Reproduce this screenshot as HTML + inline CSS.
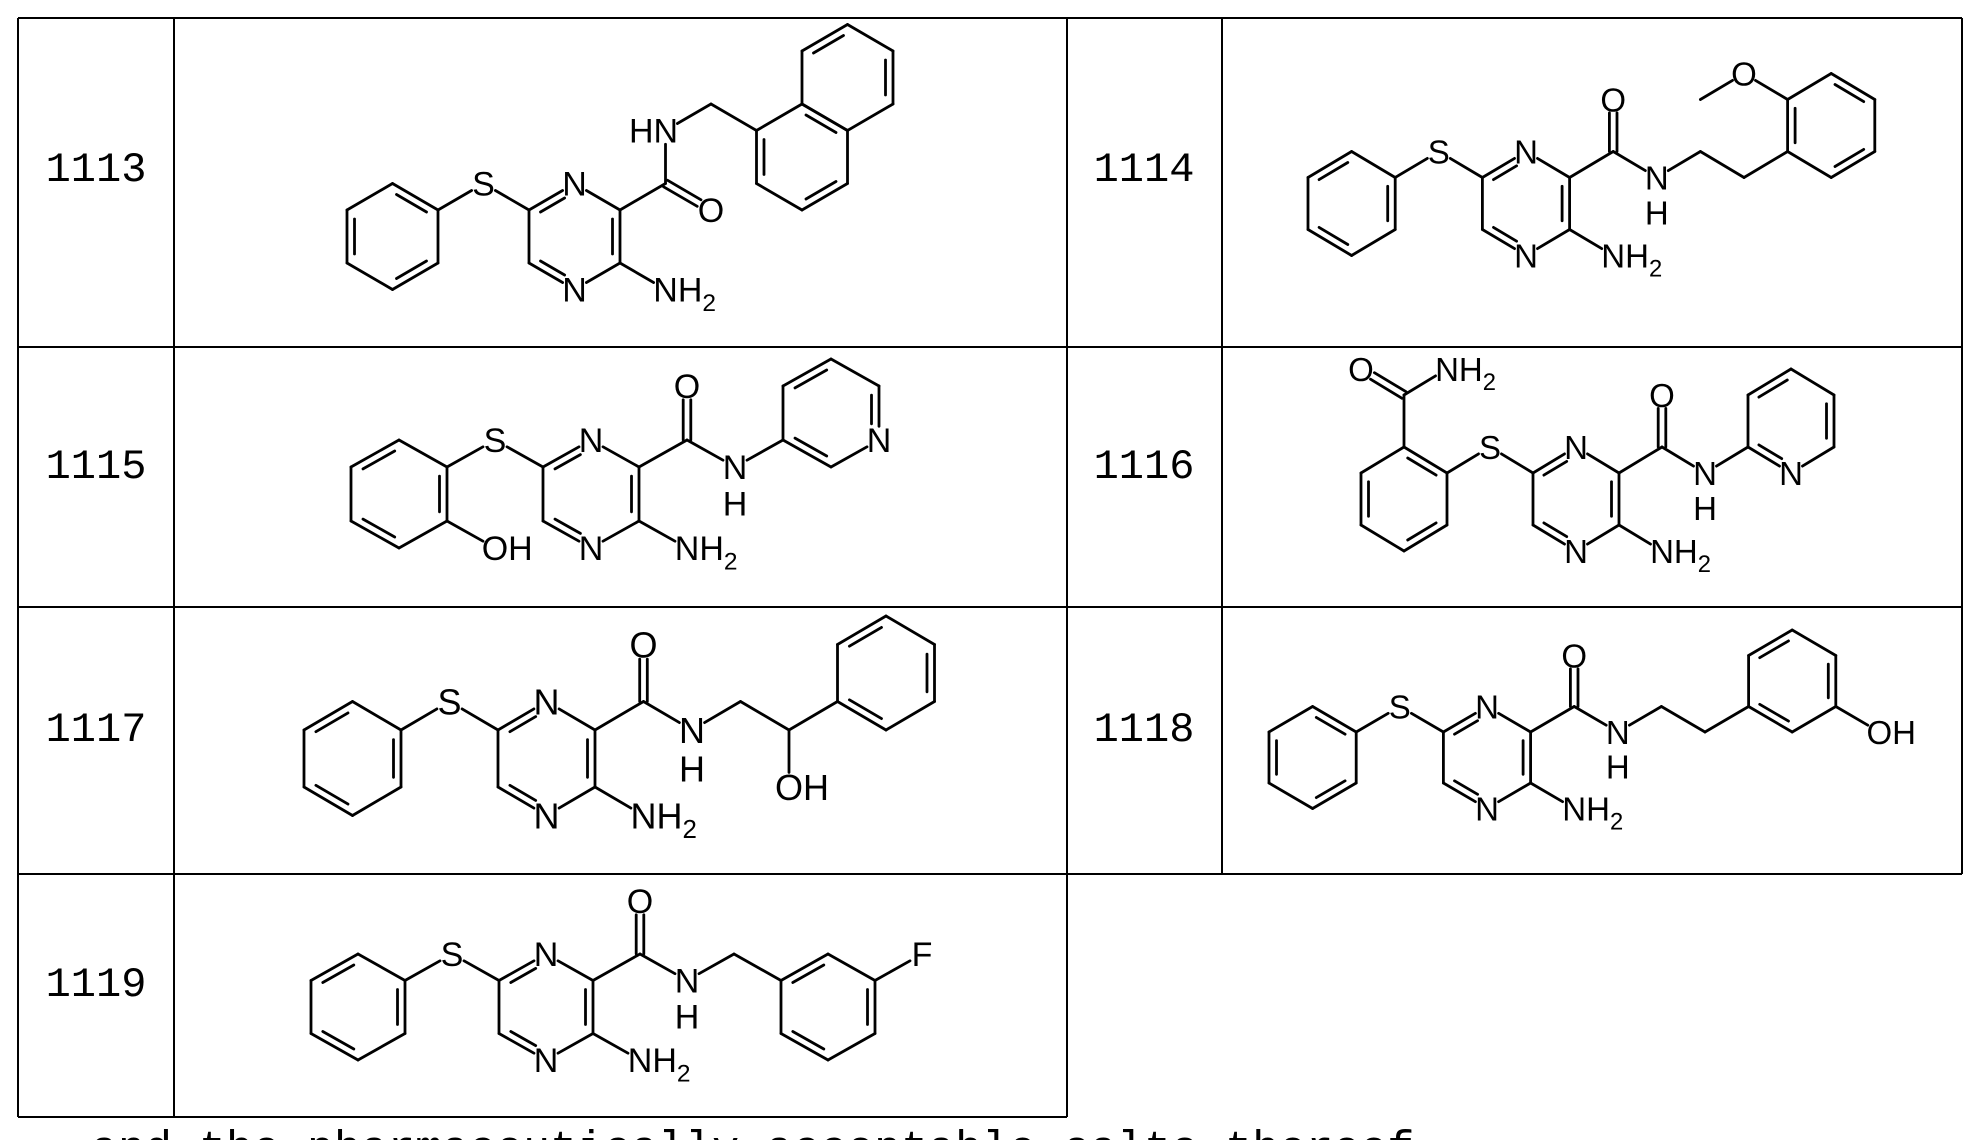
<!DOCTYPE html>
<html><head><meta charset="utf-8">
<style>
html,body{margin:0;padding:0;background:#fff;}
svg{display:block;}
</style></head>
<body>
<svg id="s" xmlns="http://www.w3.org/2000/svg" width="1977" height="1140" viewBox="0 0 1977 1140">
<rect width="1977" height="1140" fill="#fff"/>
<g stroke="#000" stroke-width="2" fill="none">
<line x1="18" y1="18" x2="1962" y2="18"/>
<line x1="18" y1="347" x2="1962" y2="347"/>
<line x1="18" y1="607" x2="1962" y2="607"/>
<line x1="18" y1="874" x2="1962" y2="874"/>
<line x1="18" y1="1117" x2="1067" y2="1117"/>
<line x1="18" y1="18" x2="18" y2="1117"/>
<line x1="174" y1="18" x2="174" y2="1117"/>
<line x1="1067" y1="18" x2="1067" y2="1117"/>
<line x1="1222" y1="18" x2="1222" y2="874"/>
<line x1="1962" y1="18" x2="1962" y2="874"/>
</g>
<g font-family="'Liberation Mono', monospace" font-size="42" fill="#000" text-anchor="middle">
<text x="96" y="181">1113</text>
<text x="1144" y="181">1114</text>
<text x="96" y="478">1115</text>
<text x="1144" y="478">1116</text>
<text x="96" y="741">1117</text>
<text x="1144" y="741">1118</text>
<text x="96" y="996">1119</text>
</g>
<text x="91" y="1162" font-family="'Liberation Mono', monospace" font-size="45" fill="#000">and the pharmaceutically acceptable salts thereof.</text>
<g id="mols"></g>
</svg>
<script>
(function(){
const NS='http://www.w3.org/2000/svg';
const root=document.getElementById('mols');
function el(tag,at,parent){const e=document.createElementNS(NS,tag);for(const k in at)e.setAttribute(k,at[k]);(parent||root).appendChild(e);return e;}
function draw(m){
  const {cx,cy,a,b,fs}=m;
  const P=p=>[cx+p[0]*a, cy+p[1]*b];
  const key=p=>p[0]+','+p[1];
  const lab=new Set((m.labels||[]).map(l=>key(l[0])));
  const g=el('g',{stroke:'#000','stroke-width':'2.8','stroke-linecap':'round',fill:'none'});
  const sh=13*fs/32;
  function seg(A,B,ka,kb){
    let [x1,y1]=A,[x2,y2]=B;const dx=x2-x1,dy=y2-y1,L=Math.hypot(dx,dy);const ux=dx/L,uy=dy/L;
    if(ka){x1+=ux*sh;y1+=uy*sh;} if(kb){x2-=ux*sh;y2-=uy*sh;}
    el('line',{x1:x1.toFixed(1),y1:y1.toFixed(1),x2:x2.toFixed(1),y2:y2.toFixed(1)},g);
  }
  function bond(p,q,t,c){
    const A=P(p),B=P(q);const ka=lab.has(key(p)),kb=lab.has(key(q));
    if(t==='d'){
      const dx=B[0]-A[0],dy=B[1]-A[1],L=Math.hypot(dx,dy);const nx=-dy/L*3.8,ny=dx/L*3.8;
      seg([A[0]+nx,A[1]+ny],[B[0]+nx,B[1]+ny],ka,kb);
      seg([A[0]-nx,A[1]-ny],[B[0]-nx,B[1]-ny],ka,kb);
      return;
    }
    seg(A,B,ka,kb);
    if(t==='i'){
      const C=P(c);const mx=(A[0]+B[0])/2,my=(A[1]+B[1])/2;
      let vx=C[0]-mx,vy=C[1]-my;const vl=Math.hypot(vx,vy);vx/=vl;vy/=vl;
      const off=7.5;const f=0.17;
      let s=[A[0]+(B[0]-A[0])*f+vx*off,A[1]+(B[1]-A[1])*f+vy*off];
      let e=[A[0]+(B[0]-A[0])*(1-f)+vx*off,A[1]+(B[1]-A[1])*(1-f)+vy*off];
      if(ka){s=[A[0]+(B[0]-A[0])*0.3+vx*off,A[1]+(B[1]-A[1])*0.3+vy*off];}
      if(kb){e=[A[0]+(B[0]-A[0])*0.7+vx*off,A[1]+(B[1]-A[1])*0.7+vy*off];}
      el('line',{x1:s[0].toFixed(1),y1:s[1].toFixed(1),x2:e[0].toFixed(1),y2:e[1].toFixed(1)},g);
    }
  }
  function ring(c,dbl){
    const [i,j]=c;const v=[[i,j-2],[i+1,j-1],[i+1,j+1],[i,j+2],[i-1,j+1],[i-1,j-1]];
    for(let k=0;k<6;k++){bond(v[k],v[(k+1)%6],dbl.includes(k)?'i':'s',c);}
  }
  (m.rings||[]).forEach(r=>ring(r[0],r[1]));
  (m.bonds||[]).forEach(bd=>bond(bd[0],bd[1],bd[2]||'s'));
  const tg=el('g',{'font-family':"'Liberation Sans', Arial, sans-serif",'font-size':fs,fill:'#000'});
  const dy=fs*0.36;
  (m.labels||[]).forEach(l=>{
    const [x,y]=P(l[0]);const t=l[1];
    if(t==='NH2'){
      const e=el('text',{x:(x-fs*0.36).toFixed(1),y:(y+dy).toFixed(1)},tg);
      e.appendChild(document.createTextNode('NH'));
      const s=el('tspan',{dy:(fs*0.27).toFixed(1),'font-size':(fs*0.72).toFixed(1)},e);s.textContent='2';
    } else if(t==='HN'){
      el('text',{x:(x+fs*0.37).toFixed(1),y:(y+dy).toFixed(1),'text-anchor':'end'},tg).textContent='HN';
    } else if(t==='OH'){
      el('text',{x:(x-fs*0.39).toFixed(1),y:(y+dy).toFixed(1)},tg).textContent='OH';
    } else if(t==='NH_'){
      el('text',{x:x.toFixed(1),y:(y+dy).toFixed(1),'text-anchor':'middle'},tg).textContent='N';
      el('text',{x:x.toFixed(1),y:(y+dy+b*1.35).toFixed(1),'text-anchor':'middle'},tg).textContent='H';
    } else {
      el('text',{x:x.toFixed(1),y:(y+dy).toFixed(1),'text-anchor':'middle'},tg).textContent=t;
    }
  });
}
function core(phDbl, extraRings, extraBonds, extraLabels){
  return {
    rings:[[[0,0],[1,3,5]],[[-4,0],phDbl]].concat(extraRings),
    bonds:[[[-1,-1],[-2,-2]],[[-2,-2],[-3,-1]],[[1,1],[2,2]],[[1,-1],[2,-2]]].concat(extraBonds),
    labels:[[[0,-2],'N'],[[0,2],'N'],[[-2,-2],'S'],[[2,2],'NH2']].concat(extraLabels)
  };
}
const up=[[[2,-2],[2,-4],'d'],[[2,-2],[3,-1]],[[3,-1],[4,-2]]];
const upL=[[[2,-4],'O'],[[3,-1],'NH_']];
const mols=[];
mols.push(Object.assign({cx:574.5,cy:236.5,a:45.5,b:26.5,fs:34},core([0,2,4],
 [[[5,-3],[4,2,0]],[[6,-6],[5,1]]],
 [[[2,-2],[3,-1],'d'],[[2,-2],[2,-4]],[[2,-4],[3,-5]],[[3,-5],[4,-4]]],
 [[[3,-1],'O'],[[2,-4],'HN']])));
mols.push(Object.assign({cx:1526,cy:203.5,a:43.6,b:26,fs:33},core([1,3,5],
 [[[7,-3],[0,2,4]]],
 up.concat([[[4,-2],[5,-1]],[[5,-1],[6,-2]],[[6,-4],[5,-5]],[[5,-5],[4,-4]]]),
 upL.concat([[[5,-5],'O']]))));
mols.push(Object.assign({cx:591,cy:494,a:48,b:27,fs:34},core([5,1,3],
 [[[5,-3],[5,1,3]]],
 up.concat([[[-3,1],[-2,2]]]),
 upL.concat([[[6,-2],'N'],[[-2,2],'OH']]))));
mols.push(Object.assign({cx:1576,cy:499,a:43,b:26,fs:33},core([0,4,2],
 [[[5,-3],[3,5,1]]],
 up.concat([[[-4,-2],[-4,-4]],[[-4,-4],[-5,-5],'d'],[[-4,-4],[-3,-5]]]),
 upL.concat([[[5,-1],'N'],[[-5,-5],'O'],[[-3,-5],'NH2']]))));
mols.push(Object.assign({cx:546.5,cy:758.5,a:48.5,b:28.5,fs:36},core([5,1,3],
 [[[7,-3],[5,1,3]]],
 up.concat([[[4,-2],[5,-1]],[[5,-1],[5,1]],[[5,-1],[6,-2]]]),
 upL.concat([[[5,1],'OH']]))));
mols.push(Object.assign({cx:1487,cy:757.5,a:43.6,b:25.5,fs:33},core([0,4,2],
 [[[7,-3],[5,1,3]]],
 up.concat([[[4,-2],[5,-1]],[[5,-1],[6,-2]],[[8,-2],[9,-1]]]),
 upL.concat([[[9,-1],'OH']]))));
mols.push(Object.assign({cx:546,cy:1007,a:47,b:26.5,fs:34},core([1,3,5],
 [[[6,0],[5,3,1]]],
 up.concat([[[4,-2],[5,-1]],[[7,-1],[8,-2]]]),
 upL.concat([[[8,-2],'F']]))));
mols.forEach(draw);
})();
</script>
</body></html>
